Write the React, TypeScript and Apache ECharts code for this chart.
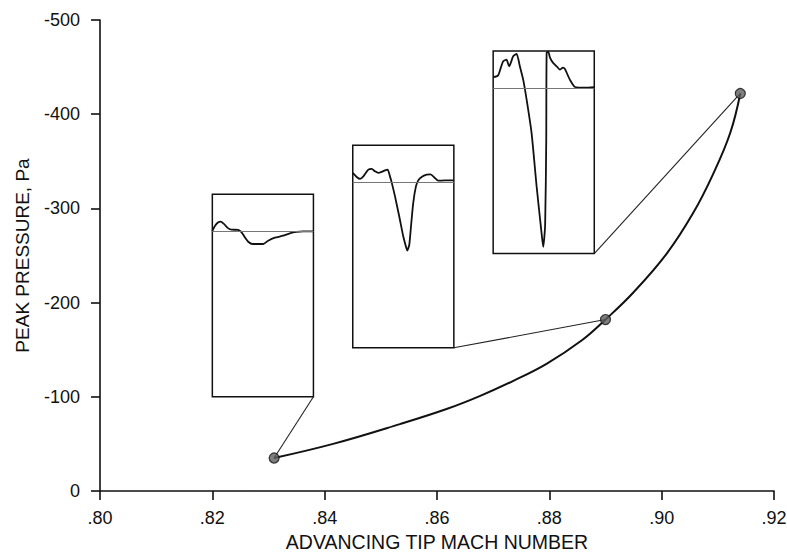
import React, { useEffect, useRef } from "react";
import * as echarts from "echarts";

// ---- data ----
const xTicks = [0.8, 0.82, 0.84, 0.86, 0.88, 0.9, 0.92];
const yTicks = [-500, -400, -300, -200, -100, 0];

// measured peak pressures (advancing tip Mach number, Pa)
const measuredPoints: [number, number][] = [
  [0.831, -35],
  [0.89, -182],
  [0.914, -422],
];

const curvePoints: [number, number][] = [
  [0.831, -35],
  [0.8415, -50],
  [0.8534, -71],
  [0.8617, -87],
  [0.8677, -101],
  [0.8736, -117],
  [0.8795, -135],
  [0.8858, -160],
  [0.89, -182],
  [0.895, -211],
  [0.9009, -252],
  [0.9056, -295],
  [0.9092, -337],
  [0.9122, -380],
  [0.914, -422],
];

// pressure time histories shown in the insets (time fraction, relative pressure)
const wave1: [number, number][] = [
  [0, 0.5], [0.027, 5.7], [0.059, 9], [0.083, 9.7], [0.115, 7.4], [0.158, 3],
  [0.191, 1.7], [0.256, 1.4], [0.29, -1], [0.322, -6], [0.355, -10.3],
  [0.398, -12.6], [0.503, -12.6], [0.552, -9.3], [0.619, -6.3], [0.7, -4.3],
  [0.766, -2], [0.832, -0.6], [0.898, 0], [1, 0],
];
const wave2: [number, number][] = [
  [0, 9.4], [0.039, 5.4], [0.072, 3.4], [0.105, 6], [0.154, 12.7], [0.188, 13.4],
  [0.22, 11], [0.253, 9.4], [0.286, 10.4], [0.319, 12], [0.345, 12.7], [0.368, 6],
  [0.385, 0], [0.418, -14], [0.46, -34], [0.5, -54], [0.526, -64], [0.539, -68],
  [0.559, -62.3], [0.576, -44], [0.598, -20.6], [0.625, -4], [0.648, 2],
  [0.681, 5.4], [0.73, 7.7], [0.77, 8], [0.812, 4.4], [0.845, 1.7], [0.911, 2], [1, 2],
];
const wave3: [number, number][] = [
  [0, 11], [0.047, 12.5], [0.076, 20.5], [0.099, 26.8], [0.132, 28.5],
  [0.158, 21.8], [0.175, 25.5], [0.198, 31.8], [0.232, 34.2], [0.264, 21.8],
  [0.297, 8.5], [0.331, -11.5], [0.38, -44.8], [0.43, -98.2], [0.479, -144.8],
  [0.495, -158.2], [0.514, -136.5], [0.525, -51.5], [0.529, 35.2], [0.545, 36.5],
  [0.562, 30.5], [0.591, 25.5], [0.628, 21.8], [0.66, 18.5], [0.69, 20.5],
  [0.71, 19.2], [0.74, 12.5], [0.759, 8.5], [0.809, 1.2], [0.908, 0.5], [1, 1],
];
const waves = [wave1, wave2, wave3];

// ---- layout ----
const W = 787;
const H = 552;
const GRID = { left: 100, top: 20, width: 674, height: 471 };
const X_MIN = 0.8, X_MAX = 0.92, Y_TOP = -500, Y_BOTTOM = 0;
const INSET_Y_MIN = -165, INSET_Y_MAX = 37;
// inset boxes in main-chart coordinates: [xLeft, xRight, yBottom, yTop]
const insetBoxes: [number, number, number, number][] = [
  [0.82, 0.838, -100, -315],
  [0.845, 0.863, -152, -367],
  [0.87, 0.888, -252, -467],
];

const toPx = (x: number) => GRID.left + ((x - X_MIN) / (X_MAX - X_MIN)) * GRID.width;
const toPy = (y: number) => GRID.top + ((y - Y_TOP) / (Y_BOTTOM - Y_TOP)) * GRID.height;

const FONT = "'Liberation Sans', Arial, Helvetica, sans-serif";

export default function App() {
  const ref = useRef<HTMLDivElement>(null);

  useEffect(() => {
    if (!ref.current) return;
    const chart = echarts.init(ref.current, undefined, { renderer: "svg" });

    const grids: any[] = [{ ...GRID, containLabel: false, outerBoundsMode: "none" }];
    const xAxes: any[] = [
      {
        type: "value",
        gridIndex: 0,
        min: X_MIN,
        max: X_MAX,
        interval: 0.02,
        position: "bottom",
        name: "ADVANCING TIP MACH NUMBER",
        nameLocation: "middle",
        nameGap: 40,
        nameTextStyle: { fontFamily: FONT, fontSize: 19.5, lineHeight: 20, color: "#111" },
        axisLine: { onZero: false, lineStyle: { color: "#111", width: 1.6 } },
        axisTick: { show: true, inside: false, length: 9, lineStyle: { color: "#111", width: 1.6 } },
        axisLabel: {
          margin: 18,
          fontFamily: FONT,
          fontSize: 18,
          color: "#111",
          formatter: (v: number) => v.toFixed(2).replace(/^0/, ""),
        },
        splitLine: { show: false },
      },
    ];
    const yAxes: any[] = [
      {
        type: "value",
        gridIndex: 0,
        min: Y_TOP,
        max: Y_BOTTOM,
        interval: 100,
        inverse: true,
        name: "PEAK PRESSURE, Pa",
        nameLocation: "middle",
        nameGap: 68,
        nameTextStyle: { fontFamily: FONT, fontSize: 19, color: "#111" },
        axisLine: { show: true, onZero: false, lineStyle: { color: "#111", width: 1.6 } },
        axisTick: { show: true, inside: false, length: 9, lineStyle: { color: "#111", width: 1.6 } },
        axisLabel: {
          margin: 20,
          fontFamily: FONT,
          fontSize: 18,
          color: "#111",
          formatter: (v: number) => (yTicks.includes(v) ? String(v) : ""),
        },
        splitLine: { show: false },
      },
    ];

    const series: any[] = [
      {
        type: "line",
        name: "curve",
        xAxisIndex: 0,
        yAxisIndex: 0,
        data: curvePoints,
        smooth: 0.4,
        showSymbol: false,
        lineStyle: { color: "#111", width: 2 },
        z: 3,
      },
    ];

    insetBoxes.forEach((b, i) => {
      const [xl, xr, yb, yt] = b;
      const left = toPx(xl);
      const right = toPx(xr);
      const top = toPy(yt);
      const bottom = toPy(yb);
      grids.push({
        left,
        top,
        width: right - left,
        height: bottom - top,
        containLabel: false,
        outerBoundsMode: "none",
        show: true,
        borderColor: "#111",
        borderWidth: 1.5,
        backgroundColor: "transparent",
      });
      const gi = i + 1;
      xAxes.push({ type: "value", gridIndex: gi, min: 0, max: 1, show: false });
      yAxes.push({ type: "value", gridIndex: gi, min: INSET_Y_MIN, max: INSET_Y_MAX, show: false });
      series.push({
        type: "line",
        xAxisIndex: gi,
        yAxisIndex: gi,
        data: waves[i],
        showSymbol: false,
        smooth: 0.2,
        lineStyle: { color: "#111", width: 1.8 },
        markLine: {
          silent: true,
          symbol: "none",
          label: { show: false },
          lineStyle: { color: "#777", width: 1, type: "solid" },
          data: [{ yAxis: 0 }],
        },
        z: 4,
      });
      // connector from the inset's lower-right corner to its measurement
      series.push({
        type: "line",
        xAxisIndex: 0,
        yAxisIndex: 0,
        data: [[xr, yb], measuredPoints[i]],
        showSymbol: false,
        lineStyle: { color: "#222", width: 1.1 },
        z: 2,
      });
    });

    series.push({
      type: "scatter",
      name: "measured",
      xAxisIndex: 0,
      yAxisIndex: 0,
      data: measuredPoints,
      symbol: "circle",
      symbolSize: 10,
      itemStyle: { color: "#5e5e5e", borderColor: "#111", borderWidth: 1.2 },
      z: 5,
    });

    chart.setOption({
      animation: false,
      backgroundColor: "#ffffff",
      grid: grids,
      xAxis: xAxes,
      yAxis: yAxes,
      series,
    });

    return () => chart.dispose();
  }, []);

  return (
    <div
      ref={ref}
      style={{ position: "absolute", left: 0, top: 0, width: W, height: H }}
    />
  );
}
